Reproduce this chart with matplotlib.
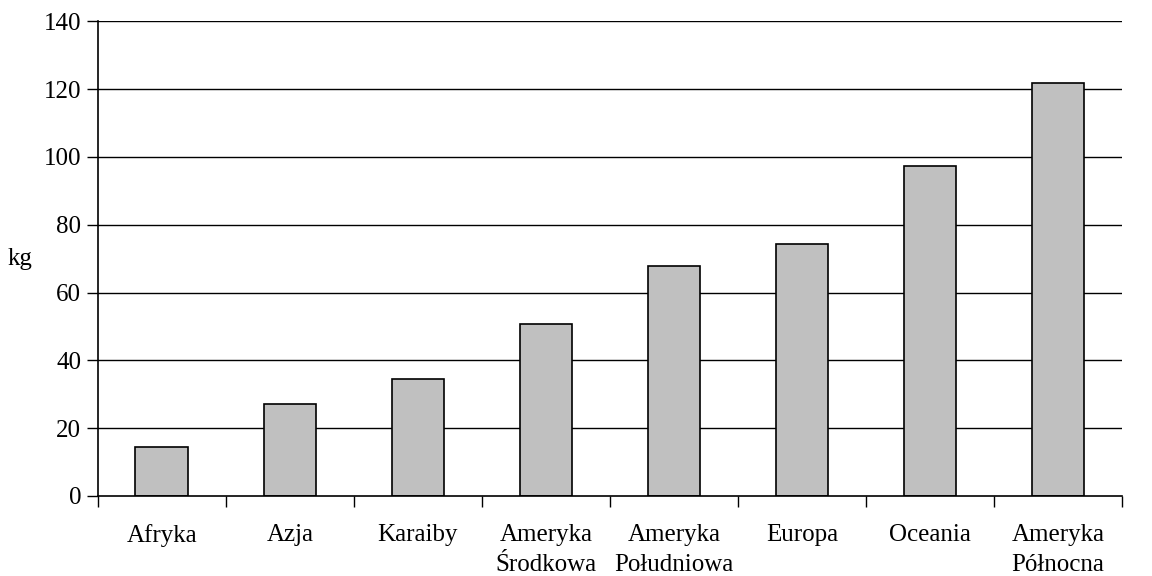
import matplotlib
matplotlib.use("Agg")
import matplotlib.pyplot as plt
import numpy as np

regions = ["Afryka", "Azja", "Karaiby", "Ameryka\nŚrodkowa", "Ameryka\nPołudniowa",
           "Europa", "Oceania", "Ameryka\nPółnocna"]
values = [14.5, 27.2, 34.6, 50.6, 67.9, 74.2, 97.3, 121.7]
yticks = [0, 20, 40, 60, 80, 100, 120, 140]

plt.rcParams['font.family'] = ['Liberation Serif', 'DejaVu Serif']

fig = plt.figure(figsize=(11.52, 5.76), dpi=100)
ax = fig.add_axes([0.0848, 0.139, 0.974 - 0.0848, 0.963 - 0.139])

x = np.arange(len(regions))
ax.bar(x, values, width=0.41, color="#c0c0c0", edgecolor="black", linewidth=1.2, zorder=3)

#gridlines
for t in yticks[1:]:
    ax.axhline(t, color="black", linewidth=1, zorder=1)

ax.set_xlim(-0.5, len(regions) - 0.5)
ax.set_ylim(0, 140)
ax.set_yticks(yticks)
ax.set_yticklabels([str(t) for t in yticks], fontsize=18)

#ticks between categories, labels at centers
ax.set_xticks(np.arange(len(regions) + 1) - 0.5)
ax.set_xticklabels([])
ax.set_xticks(x, minor=True)
ax.set_xticklabels(regions, minor=True, fontsize=18, linespacing=1.5)
ax.tick_params(axis="x", which="minor", length=0, pad=20)
ax.tick_params(axis="x", which="major", length=8, direction="out", width=1)
ax.tick_params(axis="y", length=8, direction="out", width=1, pad=4)

for side in ["top", "right"]:
    ax.spines[side].set_visible(False)
for side in ["left", "bottom"]:
    ax.spines[side].set_linewidth(1.2)
    ax.spines[side].set_zorder(4)

ax.set_ylabel("kg", rotation=0, fontsize=18, va="center", ha="center")
ax.yaxis.set_label_coords(-0.076, 0.5)

fig.savefig("out.png", dpi=100)
